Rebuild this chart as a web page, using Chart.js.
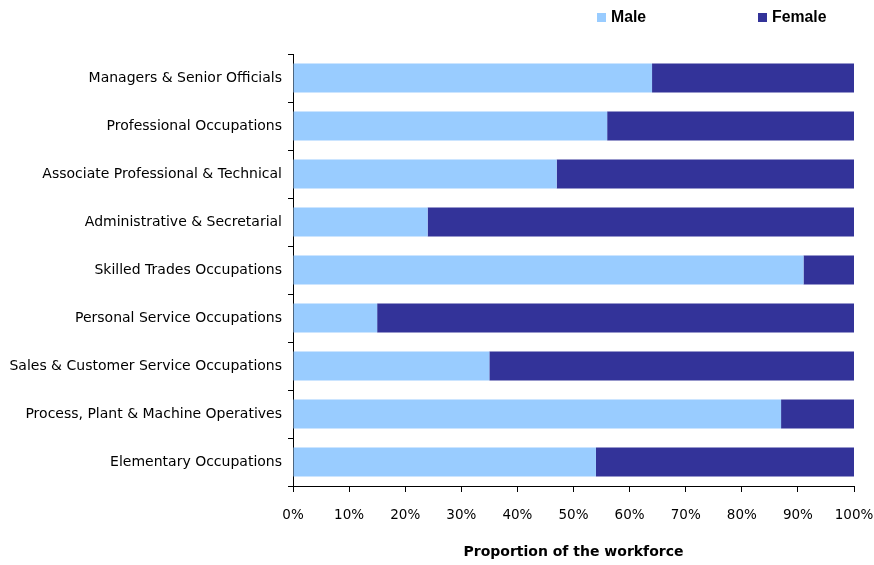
<!DOCTYPE html>
<html>
<head>
<meta charset="utf-8">
<script src="https://cdn.jsdelivr.net/npm/chart.js@4.4.1/dist/chart.umd.min.js"></script>
<style>
  html, body { margin: 0; padding: 0; background: #fff; }
  #wrap { width: 874px; height: 565px; position: relative; }
</style>
</head>
<body>
<div id="wrap"><canvas id="occChart" width="874" height="565"></canvas></div>
<script>
const occupations = [
  'Managers & Senior Officials',
  'Professional Occupations',
  'Associate Professional & Technical',
  'Administrative & Secretarial',
  'Skilled Trades Occupations',
  'Personal Service Occupations',
  'Sales & Customer Service Occupations',
  'Process, Plant & Machine Operatives',
  'Elementary Occupations'
]
const malePct   = [64, 56, 47, 24, 91, 15, 35, 87, 54]
const femalePct = [36, 44, 53, 76,  9, 85, 65, 13, 46]
const seriesNames = ['Male', 'Female']
const seriesColors = ['#99CCFF', '#333399']

const labelFont = "'DejaVu Sans', Verdana, sans-serif"

// legend drawn by hand so the two entries sit where they belong above the plot
const topLegend = {
  id: 'topLegend',
  afterDraw(chart) {
    const ctx = chart.ctx
    const xs = [597, 758]
    ctx.save()
    ctx.font = "bold 15.8px 'Liberation Sans', Arial, sans-serif"
    ctx.textBaseline = 'middle'
    chart.data.datasets.forEach((ds, i) => {
      ctx.fillStyle = ds.backgroundColor
      ctx.fillRect(xs[i], 13, 9, 9)
      ctx.fillStyle = '#000'
      ctx.fillText(ds.label, xs[i] + 14, 18)
    })
    ctx.restore()
  }
}

const data = {
  labels: occupations,
  datasets: [
    { label: seriesNames[0], data: malePct, backgroundColor: seriesColors[0] },
    { label: seriesNames[1], data: femalePct, backgroundColor: seriesColors[1] }
  ]
}

const options = {
  indexAxis: 'y',
  responsive: false,
  animation: false,
  layout: { padding: { top: 54, right: 20, left: 0, bottom: 0 } },
  datasets: { bar: { barPercentage: 0.6, categoryPercentage: 1, borderWidth: 0 } },
  plugins: { legend: { display: false }, tooltip: { enabled: false } },
  scales: {
    x: {
      stacked: true,
      min: 0,
      max: 100,
      ticks: {
        stepSize: 10,
        color: '#000',
        font: { family: labelFont, size: 13.5 },
        padding: 15,
        maxRotation: 0,
        callback: v => v + '%'
      },
      grid: { drawOnChartArea: false, tickLength: 6, color: '#000' },
      border: { color: '#000', width: 1 },
      title: {
        display: true,
        text: 'Proportion of the workforce',
        color: '#000',
        font: { family: labelFont, size: 14, weight: 'bold' },
        padding: { top: 18, bottom: 4 }
      },
      afterFit(s) {
        s.height = 79
        // keep the "100%" label from pulling the plot in from the right
        s.paddingLeft = 0
        s.paddingRight = 0
      }
    },
    y: {
      stacked: true,
      offset: true,
      ticks: {
        color: '#000',
        font: { family: labelFont, size: 14 },
        padding: 6
      },
      grid: { drawOnChartArea: false, offset: true, tickLength: 5, color: '#000' },
      border: { color: '#000', width: 1 },
      afterFit(s) { s.width = 293 }
    }
  }
}

new Chart(document.getElementById('occChart'), {
  type: 'bar',
  data: data,
  options: options,
  plugins: [topLegend]
})
</script>
</body>
</html>
